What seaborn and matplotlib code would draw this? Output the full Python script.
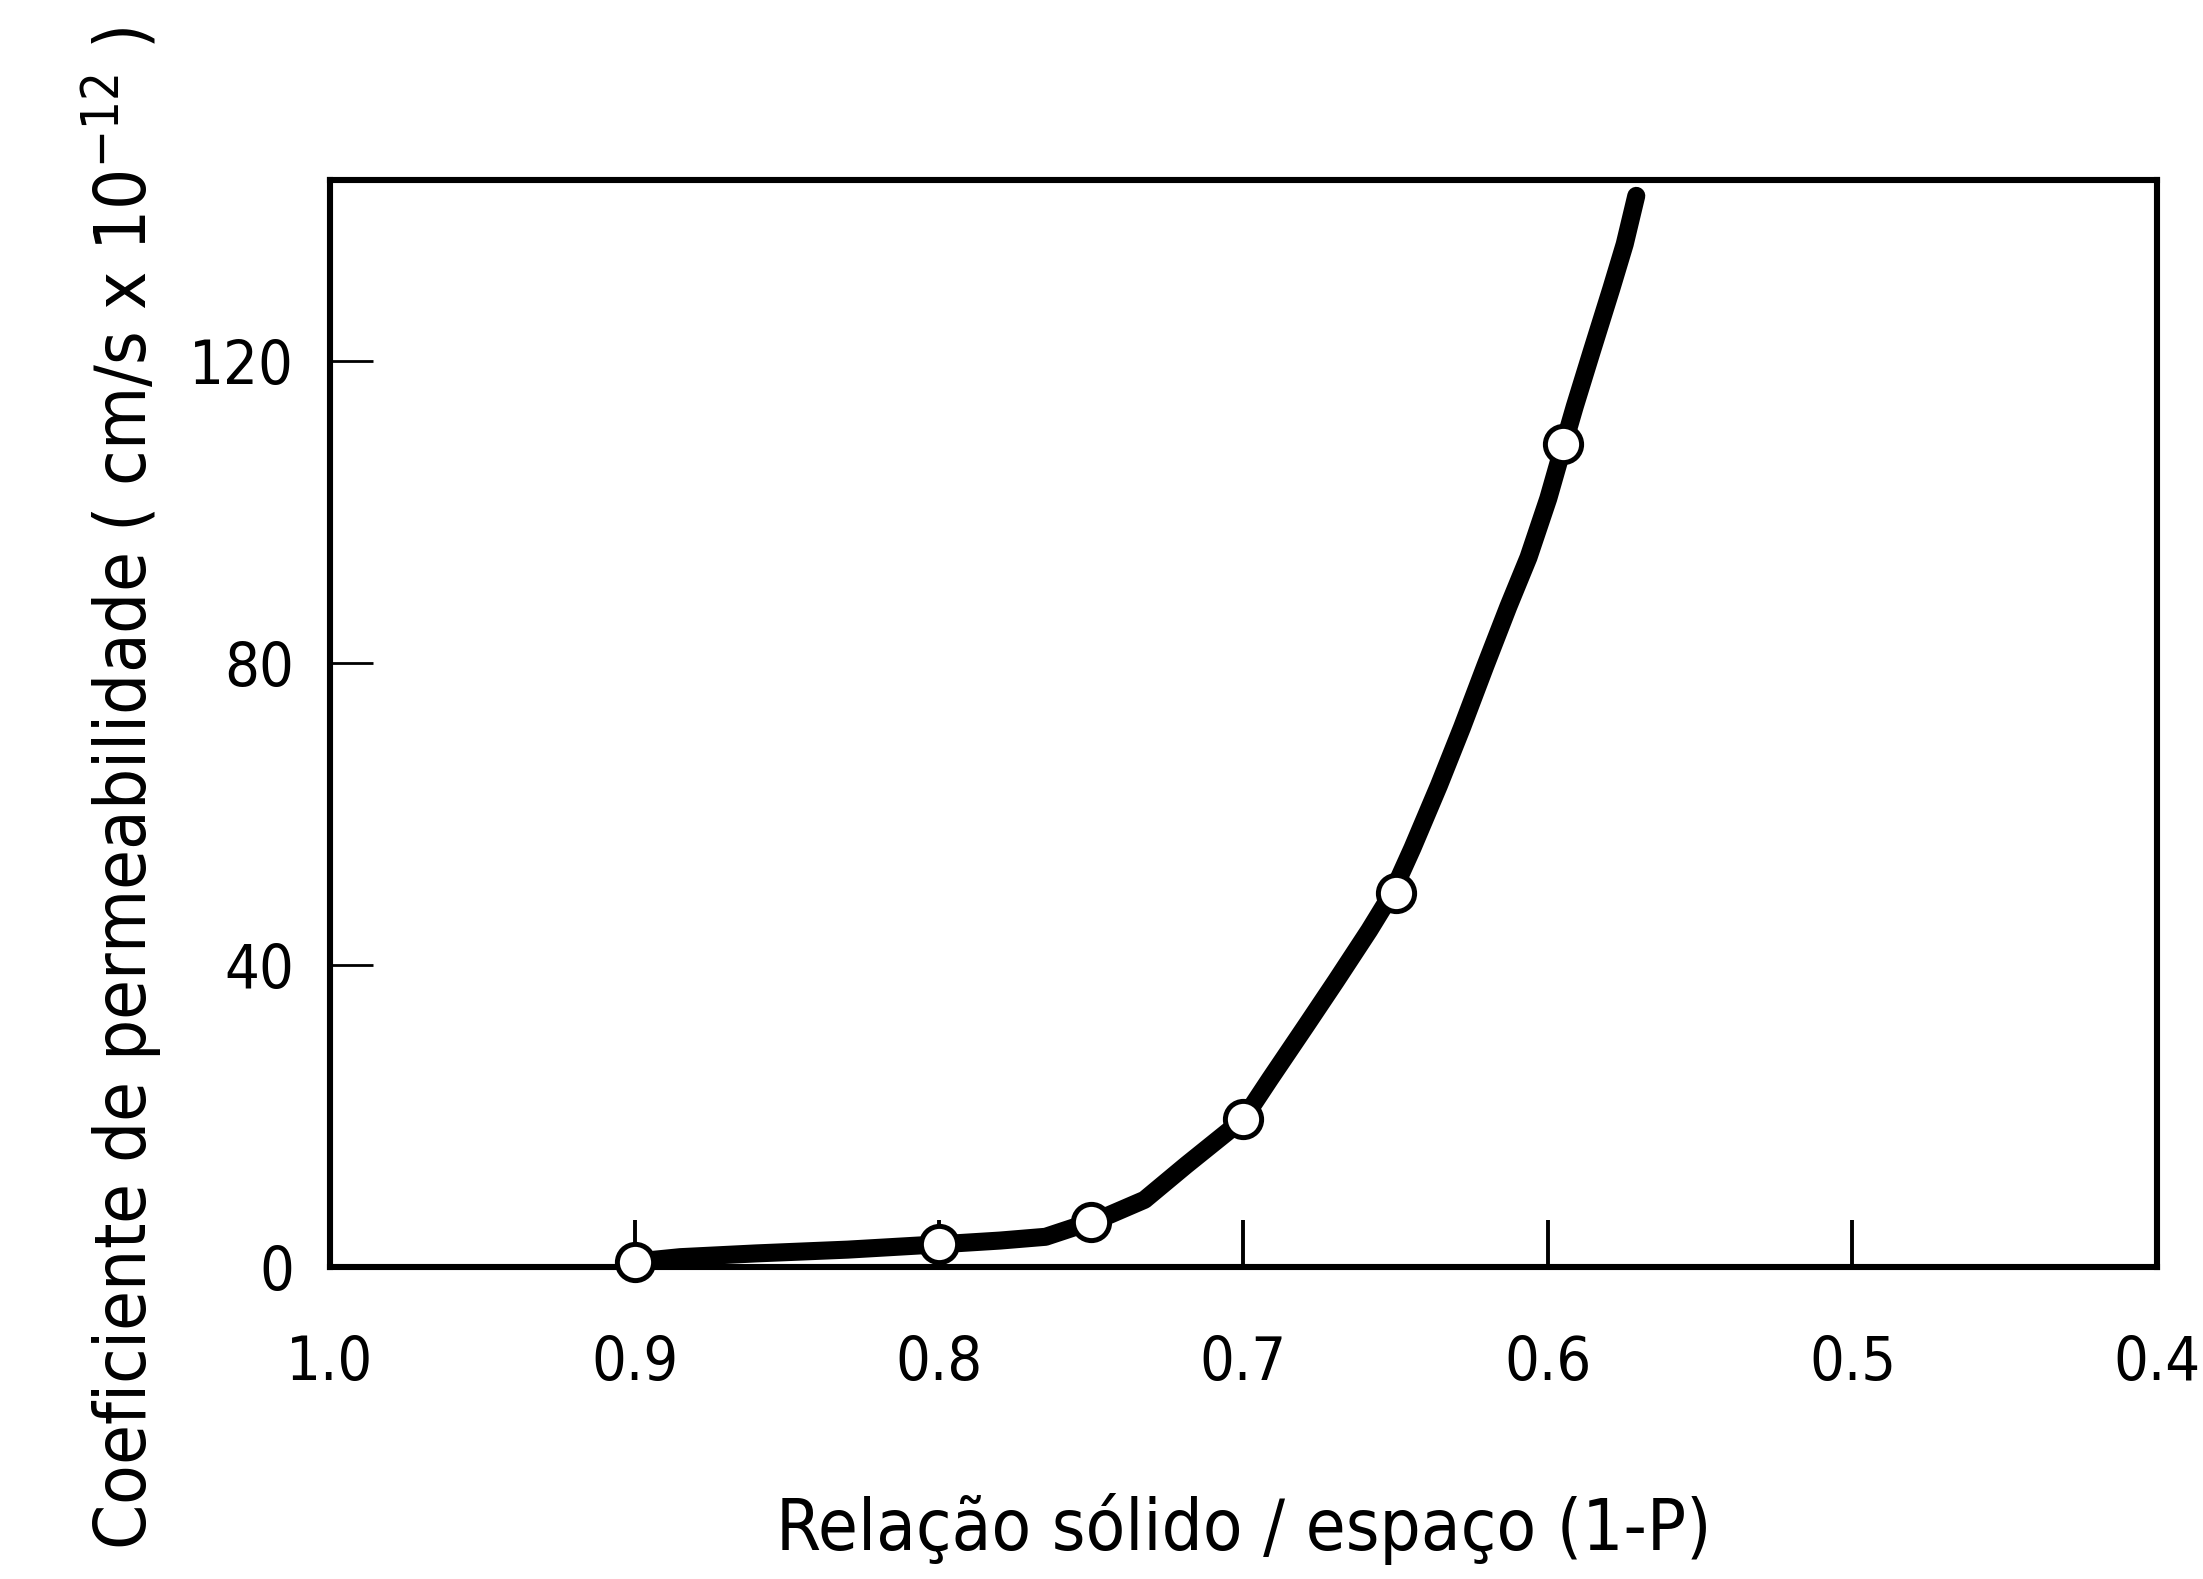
import matplotlib
matplotlib.use("Agg")
import matplotlib.pyplot as plt
import seaborn as sns
import pandas as pd

# Measured points (open circles)
point_x = [0.90, 0.80, 0.75, 0.70, 0.65, 0.595]
point_y = [0.7, 3.1, 6.0, 19.6, 49.6, 109.0]

# Fitted curve
curve_x = [0.900, 0.885, 0.860, 0.830, 0.800, 0.780, 0.765, 0.750, 0.744,
           0.7325, 0.7188, 0.700, 0.6913, 0.6794, 0.6696, 0.6587, 0.6511,
           0.6445, 0.6358, 0.6282, 0.6206, 0.6130, 0.6064, 0.5999, 0.5948,
           0.5912, 0.5857, 0.5792, 0.5748, 0.571]
curve_y = [0.7, 1.3, 1.8, 2.3, 3.0, 3.5, 4.0, 6.0, 6.9,
           8.9, 13.5, 19.6, 24.9, 32.0, 37.9, 44.6, 49.6,
           55.5, 63.8, 71.5, 79.6, 87.5, 94.0, 101.8, 109.0,
           114.0, 121.2, 129.6, 135.5, 141.9]

x_ticks = [1.0, 0.9, 0.8, 0.7, 0.6, 0.5, 0.4]
x_tick_labels = ["1.0", "0.9", "0.8", "0.7", "0.6", "0.5", "0.4"]
y_ticks = [0, 40, 80, 120]
y_tick_labels = ["0", "40", "80", "120"]

x_label = "Relação sólido / espaço (1-P)"
y_label = r"Coeficiente de permeabilidade ( cm/s x 10$^{-12}$ )"

sns.set_theme(style="white")
plt.rcParams["font.family"] = ["DejaVu Sans"]
plt.rcParams["font.stretch"] = "condensed"
plt.rcParams["mathtext.default"] = "regular"

fig = plt.figure(figsize=(2203 / 200, 1579 / 200), dpi=200)
ax = fig.add_axes([0.1498, 0.1976, 0.8293, 0.6884])

curve_df = pd.DataFrame({"x": curve_x, "y": curve_y})
pts_df = pd.DataFrame({"x": point_x, "y": point_y})

sns.lineplot(data=curve_df, x="x", y="y", ax=ax, color="black", lw=6.5,
             sort=False, estimator=None, zorder=3)
sns.scatterplot(data=pts_df, x="x", y="y", ax=ax, marker="o", s=170,
                facecolor="white", edgecolor="black", linewidth=1.8,
                zorder=4, clip_on=False)

ax.set_xlim(1.0, 0.4)
ax.set_ylim(0, 144)
ax.set_xticks(x_ticks)
ax.set_xticklabels(x_tick_labels)
ax.set_yticks(y_ticks)
ax.set_yticklabels(y_tick_labels)

ax.tick_params(axis="x", which="major", bottom=True, top=False, direction="in",
               length=17, width=1.4, color="black",
               labelsize=22, pad=24, labelcolor="black")
ax.tick_params(axis="y", which="major", left=True, right=False, direction="in",
               length=15.5, width=1.0, color="black",
               labelsize=22, pad=13, labelcolor="black")

for sp in ax.spines.values():
    sp.set_color("black")
    sp.set_linewidth(2.2)
    sp.set_visible(True)

ax.set_xlabel(x_label, fontsize=26, color="black", labelpad=36)
ax.set_ylabel(y_label, fontsize=26, color="black")
ax.yaxis.set_label_coords(-0.090, 0.44)

fig.savefig("out.png", dpi=200, facecolor="white")
